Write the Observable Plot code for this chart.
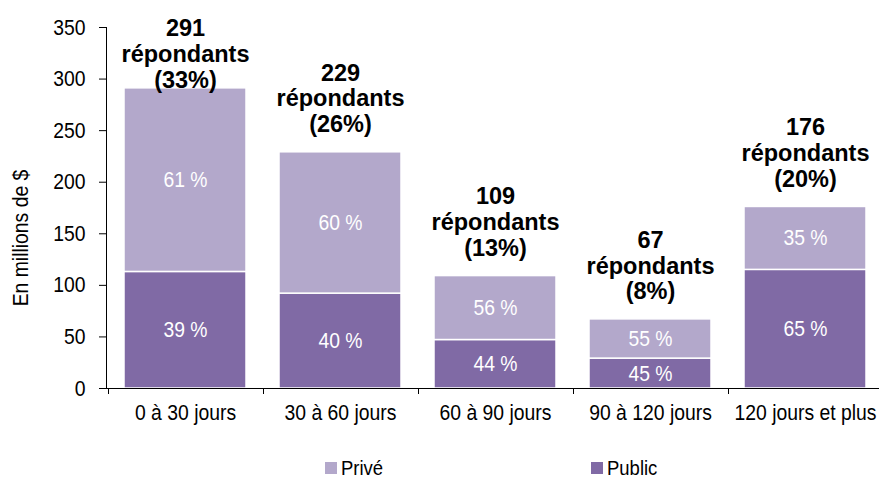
<!DOCTYPE html>
<html>
<head>
<meta charset="utf-8">
<script src="https://cdn.jsdelivr.net/npm/d3@7"></script>
<script src="https://cdn.jsdelivr.net/npm/@observablehq/plot@0.6"></script>
<style>
  html, body { margin: 0; padding: 0; background: #fff; overflow: hidden; }
  #chart { width: 879px; height: 440px; }
  .legend { position: relative; width: 879px; height: 38px; font-family: "Liberation Sans", Arial, sans-serif; font-size: 21px; color: #000; }
  .legend .item { position: absolute; top: 17px; display: flex; align-items: center; gap: 4px; line-height: 21px; height: 21px; }
  .legend .sw { width: 12px; height: 12px; display: inline-block; }
  .legend .lbl { display: inline-block; transform: scaleX(0.88); transform-origin: left center; }
</style>
</head>
<body>
<div id="chart"></div>
<script>
// ---- data ----
const categories = ["0 à 30 jours", "30 à 60 jours", "60 à 90 jours", "90 à 120 jours", "120 jours et plus"];
const totalAmounts = [291, 229, 109, 67, 176];          // bar heights (En millions de $)
const publicAmounts = [113, 92, 47, 29, 115];           // lower segment
const priveAmounts = [178, 137, 62, 38, 61];            // upper segment
const publicPct = [39, 40, 44, 45, 65];
const privePct = [61, 60, 56, 55, 35];
const respondents = [291, 229, 109, 67, 176];
const respondentShare = [33, 26, 13, 8, 20];
const seriesNames = ["Privé", "Public"];
const seriesColors = ["#b3a8cb", "#806aa5"];
const yTicks = [0, 50, 100, 150, 200, 250, 300, 350];
const yLabel = "En millions de $";

// ---- table ----
const rows = categories.flatMap((c, i) => [
  {cat: c, series: "Public", value: publicAmounts[i], pct: publicPct[i]},
  {cat: c, series: "Privé", value: priveAmounts[i], pct: privePct[i]}
]);
const topLabels = categories.map((c, i) => ({
  cat: c, total: totalAmounts[i],
  text: `${respondents[i]}\nrépondants\n(${respondentShare[i]}%)`
}));

const sans = '"Liberation Sans", Arial, sans-serif';
const padInner = 0.21;
const condense = 0.88;
const labelCap = 272; // keep the tallest bar's label inside the frame

// y axis line and tick marks at the band boundaries
function axisLines(index, scales, values, dims) {
  const g = d3.create("svg:g").attr("stroke", "#000").attr("stroke-width", 1);
  const x0 = dims.marginLeft;
  g.append("line").attr("x1", x0 + 0.5).attr("x2", x0 + 0.5)
    .attr("y1", scales.y(yTicks[yTicks.length - 1])).attr("y2", scales.y(0));
  const step = scales.x(categories[1]) - scales.x(categories[0]);
  const gap = step * padInner;
  const y0 = scales.y(0);
  categories.forEach(c => {
    const bx = Math.round(scales.x(c) - gap / 2) + 0.5;
    g.append("line").attr("x1", bx).attr("x2", bx).attr("y1", y0).attr("y2", y0 + 6);
  });
  return g.node();
}

const plot = Plot.plot({
  width: 879,
  height: 440,
  marginLeft: 106,
  marginRight: -5,
  marginTop: 27,
  marginBottom: 52,
  style: {fontFamily: sans, fontSize: "22px", color: "#000", background: "#fff"},
  x: {domain: categories, paddingInner: padInner, paddingOuter: padInner / 2, label: null},
  y: {domain: [0, 350], label: null},
  color: {domain: seriesNames, range: seriesColors},
  marks: [
    Plot.axisY({ticks: yTicks, tickSize: 7, tickPadding: 14, fontSize: 22, label: null}),
    Plot.axisX({tickSize: 0, tickPadding: 16, fontSize: 22, label: null}),
    Plot.barY(rows, {
      x: "cat", y: "value", fill: "series", z: "series",
      stroke: "#fff", strokeWidth: 1.5,
      style: "filter: drop-shadow(1px 1px 1px rgba(0,0,0,0.25))"
    }),
    Plot.text(rows, Plot.stackY({
      x: "cat", y: "value", z: "series",
      text: d => `${d.pct} %`, fill: "#fff", fontSize: 22
    })),
    Plot.ruleY([0], {stroke: "#000"}),
    axisLines,
    Plot.text(topLabels, {
      x: "cat", y: d => Math.min(d.total, labelCap), text: "text",
      lineAnchor: "bottom", dy: -20, lineHeight: 1.1,
      fontWeight: "bold", fontSize: 23.5, fill: "#000"
    }),
    Plot.text([yLabel], {
      text: d => d, frameAnchor: "left", textAnchor: "middle", rotate: -90, dx: -86, dy: 30,
      fontSize: 22, fill: "#000"
    })
  ]
});
document.getElementById("chart").append(plot);

// give the regular (non-bold) single-line texts a condensed look
plot.querySelectorAll("text").forEach(t => {
  if (t.closest("[font-weight='bold']")) return;
  if (t.querySelector("tspan")) return;
  const len = t.getComputedTextLength();
  if (len > 0) {
    t.setAttribute("textLength", (len * condense).toFixed(1));
    t.setAttribute("lengthAdjust", "spacingAndGlyphs");
  }
});

// legend below the svg
const legend = d3.select("body").append("div").attr("class", "legend");
const legendLeft = {"Privé": 325, "Public": 591};
seriesNames.forEach((s, i) => {
  const it = legend.append("div").attr("class", "item").style("left", legendLeft[s] + "px");
  it.append("span").attr("class", "sw").style("background", seriesColors[i]);
  it.append("span").attr("class", "lbl").text(s);
});
</script>
</body>
</html>
